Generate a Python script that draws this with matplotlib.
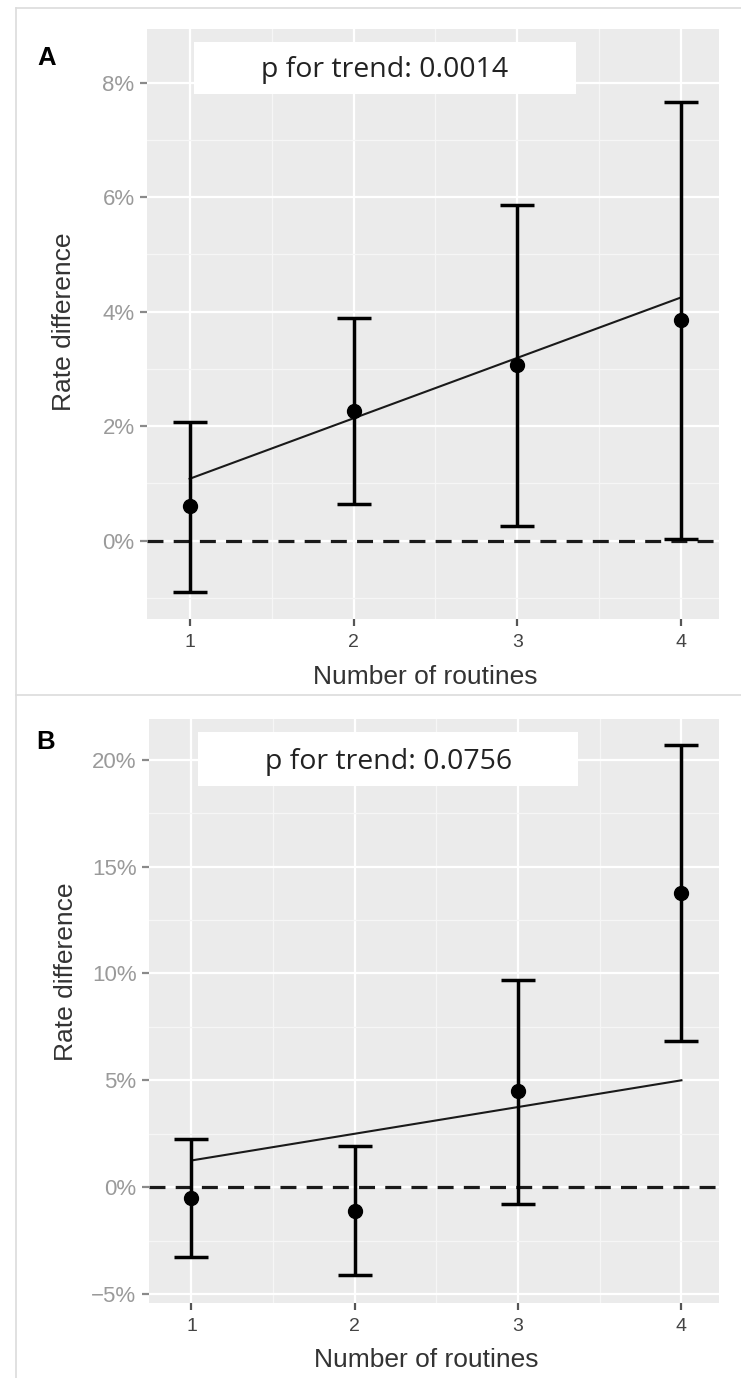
import matplotlib
matplotlib.use('Agg')
import matplotlib.pyplot as plt
from matplotlib.ticker import FixedLocator, FuncFormatter
from matplotlib.lines import Line2D

# values in percent
routines = [1, 2, 3, 4]

rd_a = [0.60, 2.27, 3.06, 3.86]
lo_a = [-0.89, 0.64, 0.26, 0.03]
hi_a = [2.08, 3.89, 5.87, 7.67]
trend_a = [1.08, 4.25]
p_a = 'p for trend: 0.0014'
yticks_a = [0, 2, 4, 6, 8]

rd_b = [-0.52, -1.10, 4.48, 13.75]
lo_b = [-3.25, -4.13, -0.77, 6.83]
hi_b = [2.25, 1.94, 9.69, 20.67]
trend_b = [1.25, 5.00]
p_b = 'p for trend: 0.0756'
yticks_b = [-5, 0, 5, 10, 15, 20]

plt.rcParams['font.family'] = ['Liberation Sans', 'DejaVu Sans']

BG = '#EBEBEB'


def pct(v, pos=None):
    return f'{v:g}%'.replace('-', '\u2212')


def panel(ax, rd, lo, hi, trend, ptxt, yticks, ylim, ylab_y, box):
    ax.set_facecolor(BG)
    for s in ax.spines.values():
        s.set_visible(False)
    ax.set_xlim(0.74, 4.23)
    ax.set_ylim(*ylim)

    step = yticks[1] - yticks[0]
    minor_y = [t - step / 2 for t in yticks] + [yticks[-1] + step / 2]
    ax.yaxis.set_major_locator(FixedLocator(yticks))
    ax.yaxis.set_minor_locator(FixedLocator(minor_y))
    ax.xaxis.set_major_locator(FixedLocator(routines))
    ax.xaxis.set_minor_locator(FixedLocator([r + 0.5 for r in routines[:-1]]))
    ax.yaxis.set_major_formatter(FuncFormatter(pct))
    ax.grid(which='major', color='white', lw=1.6)
    ax.grid(which='minor', color='#F6F6F6', lw=0.9)
    ax.set_axisbelow(True)

    ax.tick_params(axis='y', which='major', length=5, width=1.6, color='#8a8a8a',
                   labelcolor='#9a9a9a', labelsize=16, pad=4)
    ax.tick_params(axis='x', which='major', length=5, width=1.6, color='#555555',
                   labelcolor='#444444', labelsize=14, pad=6)
    ax.tick_params(which='minor', length=0)

    ax.axhline(0, color='#1a1a1a', lw=2.3, ls=(0, (5.0, 3.2)), zorder=2)
    ax.plot([routines[0], routines[-1]], trend, color='#1a1a1a', lw=1.5, zorder=3)
    yerr = [[r - l for r, l in zip(rd, lo)], [h - r for r, h in zip(rd, hi)]]
    ax.errorbar(routines, rd, yerr=yerr, fmt='o', color='black', ms=10,
                elinewidth=2.5, capsize=12.5, capthick=2.5, zorder=4)

    # white label box for the trend test
    x0, x1, y0, y1 = box
    ax.add_patch(plt.Rectangle((x0, y0), x1 - x0, y1 - y0, transform=ax.transAxes,
                               facecolor='white', edgecolor='none', zorder=5))
    ax.text((x0 + x1) / 2, (y0 + y1) / 2 - 0.004, ptxt, transform=ax.transAxes,
            ha='center', va='center', fontsize=20.5, color='#222222',
            family=['Open Sans', 'DejaVu Sans'], zorder=6)

    ax.set_ylabel('Rate difference', fontsize=19, color='#333333')
    ax.yaxis.set_label_coords(-0.145, ylab_y)
    ax.set_xlabel('Number of routines', fontsize=19, color='#333333')
    ax.xaxis.set_label_coords(0.486, -0.098)
    ax.xaxis.label.set_va('center')
    ax.yaxis.label.set_va('center')


fig = plt.figure(figsize=(7.41, 13.78), dpi=100)

# light frames of the two original sub-figures
frame = dict(color='#DCDCDC', lw=1.2, transform=fig.transFigure)
fig.add_artist(Line2D([16 / 741, 16 / 741], [0, 1 - 8 / 1378], **frame))
fig.add_artist(Line2D([16 / 741, 1], [1 - 8 / 1378, 1 - 8 / 1378], **frame))
fig.add_artist(Line2D([16 / 741, 1], [1 - 695 / 1378, 1 - 695 / 1378], **frame))

ax_a = fig.add_axes([0.1984, 0.5508, 0.7719, 0.4278])
ax_b = fig.add_axes([0.2011, 0.0544, 0.7692, 0.4238])

panel(ax_a, rd_a, lo_a, hi_a, trend_a, p_a, yticks_a, (-1.37, 8.93), 0.505,
      (0.082, 0.750, 0.891, 0.979))
panel(ax_b, rd_b, lo_b, hi_b, trend_b, p_b, yticks_b, (-5.42, 21.9), 0.568,
      (0.086, 0.753, 0.885, 0.977))

fig.text(47 / 741, 1 - 58 / 1378, 'A', fontsize=18.5, fontweight='bold',
         ha='center', va='center')
fig.text(46 / 741, 1 - 742 / 1378, 'B', fontsize=18.5, fontweight='bold',
         ha='center', va='center')

fig.savefig('out.png', dpi=100, facecolor='white')
